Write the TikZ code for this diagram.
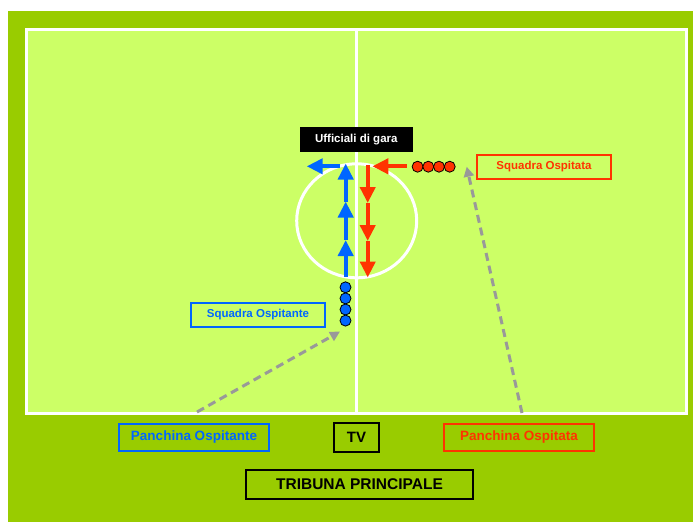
\documentclass[tikz,border=0pt]{standalone}
\usepackage{fontspec}
\setmainfont{Liberation Sans}
\usetikzlibrary{arrows.meta, positioning}
\definecolor{CampoScuro}{HTML}{99CC00}
\definecolor{CampoChiaro}{HTML}{CCFF66}
\definecolor{OspitanteBlu}{HTML}{0066FF}
\definecolor{OspitataRosso}{HTML}{FF3300}
\definecolor{FrecciaGrigia}{HTML}{999999}

\begin{document}
\begin{tikzpicture}[x=1pt, y=-1pt,
        % Etichetta squadra
        teambox/.style={
                rectangle,
                draw=#1,
                line width=2pt,
                text=#1,
                font=\bfseries\fontsize{11.5}{13}\selectfont,
                minimum width=134pt,
                minimum height=24pt,
                inner sep=0pt
            },
        % Etichetta panchina
        benchbox/.style={
                teambox=#1,
                font=\bfseries\fontsize{13.5}{15}\selectfont,
                minimum width=150pt,
                minimum height=27pt
            },
        % Giocatore
        player/.style={
                circle,
                fill=#1,
                draw=black,
                line width=0.8pt,
                minimum size=11pt,
                inner sep=0pt
            },
        % Freccia di movimento
        movearrow/.style={
                draw=#1,
                line width=4pt,
                -{Triangle[length=16pt,width=15pt]}
            },
        % Freccia tratteggiata
        greyarrow/.style={
                draw=FrecciaGrigia,
                line width=3pt,
                dash pattern=on 8pt off 5pt,
                -{Triangle[length=10pt,width=10pt]}
            }
    ]
    \useasboundingbox (0,0) rectangle (693,522);

    % CAMPO
    \fill[CampoScuro] (8,11) rectangle (693,522);
    \draw[white, line width=3pt, fill=CampoChiaro] (26.5,29.5) rectangle (686.8,413);
    \draw[white, line width=3pt] (356.7,29.5) -- (356.7,413);
    \draw[white, line width=3pt] (356.7,220.8) ellipse [x radius=60, y radius=57];

    % UFFICIALI
    \node[rectangle, fill=black, text=white, font=\bfseries\fontsize{11.5}{13}\selectfont,
        minimum width=112.7pt, minimum height=25pt, inner sep=0pt] (uff) at (356.3,139.8) {Ufficiali di gara};

    % SQUADRA OSPITANTE
    \foreach \i/\y in {0/276.7, 1/240, 2/201.5, 3/163.5}
        \coordinate (bv\i) at (345.7,\y);
    \foreach \a/\b in {0/1, 1/2, 2/3}
        \path[movearrow=OspitanteBlu] (bv\a) -- (bv\b);
    \coordinate (bh0) at (340,166.3);
    \coordinate (bh1) at (306.7,166.3);
    \path[movearrow=OspitanteBlu] (bh0) -- (bh1);
    \foreach \i in {1,...,4}
        \node[player=OspitanteBlu] (blu\i) at (345.5,276.2+\i*11.1) {};
    \node[teambox=OspitanteBlu] (sqante) at (258,315) {Squadra Ospitante};

    % SQUADRA OSPITATA
    \foreach \i/\y in {0/165, 1/203, 2/241, 3/277.5}
        \coordinate (rv\i) at (367.7,\y);
    \foreach \a/\b in {0/1, 1/2, 2/3}
        \path[movearrow=OspitataRosso] (rv\a) -- (rv\b);
    \coordinate (rh0) at (406.7,166.3);
    \coordinate (rh1) at (372.3,166.3);
    \path[movearrow=OspitataRosso] (rh0) -- (rh1);
    \foreach \i in {1,...,4}
        \node[player=OspitataRosso] (ros\i) at (406.9+\i*10.7,166.7) {};
    \node[teambox=OspitataRosso] (sqata) at (544,166.5) {Squadra Ospitata};

    % BORDO CAMPO
    \node[benchbox=OspitanteBlu] (pante) at (194,437.5) {Panchina Ospitante};
    \node[benchbox=black, minimum width=45pt, minimum height=29pt, font=\bfseries\fontsize{15}{17}\selectfont] (tv) at (356.5,437.5) {TV};
    \node[benchbox=OspitataRosso] (pata) at (519,437.5) {Panchina Ospitata};
    \node[benchbox=black, minimum width=227pt, minimum height=29pt, font=\bfseries\fontsize{15.5}{17}\selectfont,
        below=16pt of tv, xshift=3pt] (tribuna) {TRIBUNA PRINCIPALE};

    % Frecce dalle panchine
    \coordinate (partA) at (197,412);
    \coordinate (partB) at (522,413);
    \draw[greyarrow] (partA) -- ([xshift=-5.5pt,yshift=-11pt]blu4.center);
    \draw[greyarrow] (partB) -- ([xshift=17pt]ros4.center);

\end{tikzpicture}
\end{document}
